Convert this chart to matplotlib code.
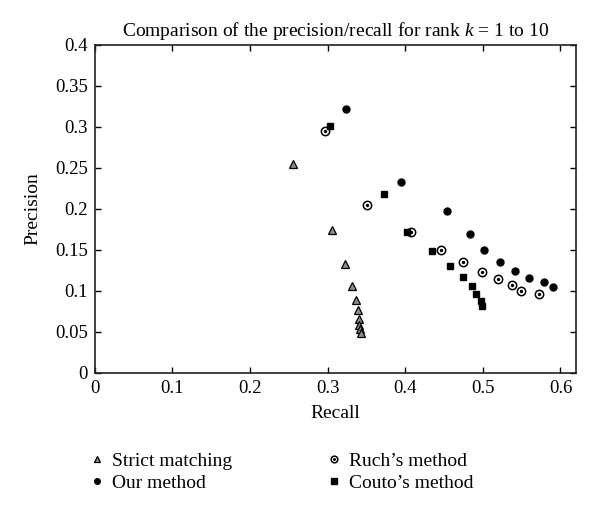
import matplotlib
matplotlib.use("Agg")
import matplotlib.pyplot as plt
from matplotlib.legend_handler import HandlerTuple

plt.rcParams['font.family'] = ['Liberation Serif', 'DejaVu Serif']
plt.rcParams['mathtext.fontset'] = 'custom'
plt.rcParams['mathtext.it'] = 'Liberation Serif:italic'

# recall / precision for rank k = 1..10
strict_recall = [0.256, 0.305, 0.322, 0.331, 0.336, 0.339, 0.340, 0.341, 0.342, 0.343]
strict_prec = [0.255, 0.174, 0.132, 0.106, 0.089, 0.077, 0.066, 0.058, 0.053, 0.048]

our_recall = [0.324, 0.394, 0.454, 0.483, 0.501, 0.522, 0.541, 0.560, 0.579, 0.590]
our_prec = [0.321, 0.233, 0.197, 0.169, 0.149, 0.135, 0.124, 0.116, 0.110, 0.104]

ruch_recall = [0.297, 0.351, 0.407, 0.446, 0.474, 0.499, 0.520, 0.538, 0.549, 0.572]
ruch_prec = [0.295, 0.205, 0.172, 0.150, 0.135, 0.123, 0.114, 0.107, 0.100, 0.096]

couto_recall = [0.303, 0.373, 0.402, 0.435, 0.458, 0.475, 0.486, 0.491, 0.497, 0.499]
couto_prec = [0.301, 0.218, 0.172, 0.148, 0.130, 0.117, 0.106, 0.096, 0.088, 0.081]

x_ticks = [0, 0.1, 0.2, 0.3, 0.4, 0.5, 0.6]
x_labels = ['0', '0.1', '0.2', '0.3', '0.4', '0.5', '0.6']
y_ticks = [0, 0.05, 0.1, 0.15, 0.2, 0.25, 0.3, 0.35, 0.4]
y_labels = ['0', '0.05', '0.1', '0.15', '0.2', '0.25', '0.3', '0.35', '0.4']

fig = plt.figure(figsize=(6.0, 5.13), dpi=100)
ax = fig.add_axes([0.158, 0.2735, 0.802, 0.6395])

h_strict, = ax.plot(strict_recall, strict_prec, ls='none', marker='^', ms=5.5,
                    mfc='#8c8c8c', mec='black', mew=0.9)
h_our, = ax.plot(our_recall, our_prec, ls='none', marker='o', ms=5,
                 mfc='black', mec='black')
h_ruch, = ax.plot(ruch_recall, ruch_prec, ls='none', marker='o', ms=6,
                  mfc='white', mec='black', mew=1.1)
h_ruch_dot, = ax.plot(ruch_recall, ruch_prec, ls='none', marker='o', ms=1.4,
                      mfc='black', mec='black')
h_couto, = ax.plot(couto_recall, couto_prec, ls='none', marker='s', ms=5,
                   mfc='black', mec='black')

ax.set_xlim(0, 0.62)
ax.set_ylim(0, 0.4)
ax.set_xticks(x_ticks)
ax.set_xticklabels(x_labels)
ax.set_yticks(y_ticks)
ax.set_yticklabels(y_labels)
ax.tick_params(direction='in', top=True, right=True, length=4, width=1,
               labelsize=13.5, pad=5)
for s in ax.spines.values():
    s.set_linewidth(1.2)
    s.set_color('#222222')

ax.set_xlabel('Recall', fontsize=14, labelpad=6)
ax.set_ylabel('Precision', fontsize=14, labelpad=10)
ax.set_title('Comparison of the precision/recall for rank $k$ = 1 to 10',
             fontsize=14, pad=6)

fig.legend([h_strict, h_our, (h_ruch, h_ruch_dot), h_couto],
           ['Strict matching', 'Our method', 'Ruch\u2019s method', 'Couto\u2019s method'],
           ncol=2, loc='upper left', bbox_to_anchor=(0.12, 0.152),
           frameon=False, fontsize=14, handlelength=0.8, handletextpad=0.35,
           columnspacing=4.85, labelspacing=0.2, markerscale=0.8,
           handler_map={tuple: HandlerTuple(ndivide=1, pad=0)})

fig.savefig('out.png', dpi=100)
